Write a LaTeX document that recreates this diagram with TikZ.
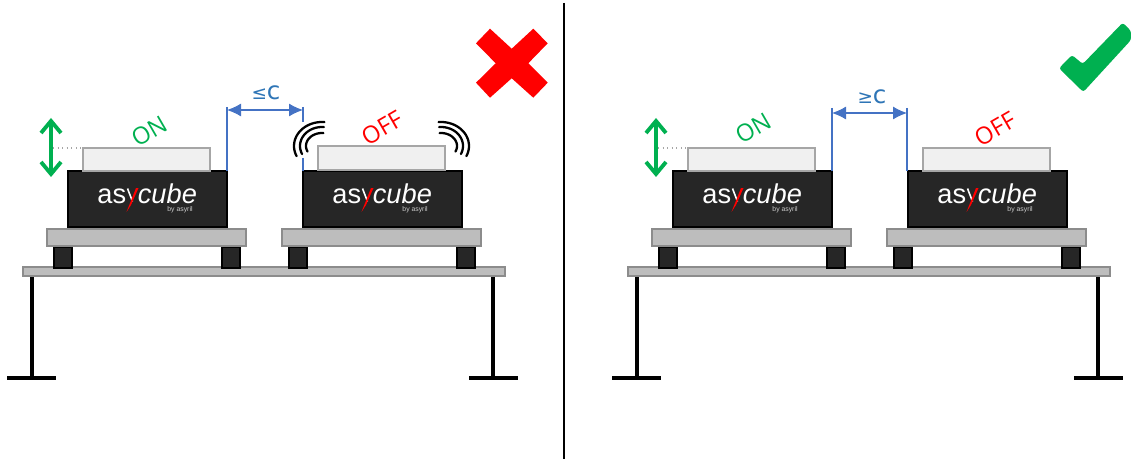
\documentclass[tikz,border=0pt]{standalone}
\usepackage{fontspec}
\setmainfont{Open Sans}
\newfontfamily\logofont{Liberation Sans}
\newfontfamily\gapfont{DejaVu Sans}
\usetikzlibrary{arrows.meta,positioning}
\definecolor{okcol}{RGB}{0,176,80}
\definecolor{badcol}{RGB}{255,0,0}
\definecolor{dimcol}{RGB}{68,114,196}
\definecolor{gapcol}{RGB}{46,117,182}
\definecolor{steel}{RGB}{189,189,189}
\definecolor{steeledge}{RGB}{140,140,140}
\definecolor{cube}{RGB}{38,38,38}
\tikzset{
  steelbar/.style={draw=steeledge, fill=steel, line width=0.9pt},
  foot/.style={draw=black, fill=cube, line width=0.6pt},
  cubebox/.style={draw=black, fill=cube, line width=0.9pt},
  tray/.style={draw=black!35, fill=black!6, line width=1pt},
  leg/.style={draw=black, line width=2.2pt},
  state/.style={font=\fontsize{13.5}{13.5}\selectfont, rotate=30, inner sep=0pt},
  logo/.style={font=\logofont\fontsize{15.5}{15.5}\selectfont, text=white, inner sep=0pt},
  bylab/.style={font=\logofont\fontsize{3.9}{4}\selectfont, text=white!80!black, inner sep=0pt},
  gaplab/.style={text=gapcol, inner sep=0pt},
  dimline/.style={draw=dimcol, line width=0.6pt},
  dimarrow/.style={draw=dimcol, line width=0.6pt, {Latex[length=2.8mm,width=2.6mm]}-{Latex[length=2.8mm,width=2.6mm]}},
  lift/.style={draw=okcol, line width=2.2pt, {Straight Barb[length=2.4mm,width=4mm]}-{Straight Barb[length=2.4mm,width=4mm]}},
  wave/.style={draw=black, line width=1.3pt, line cap=round},
}
\begin{document}
\begin{tikzpicture}[x=0.02cm,y=-0.02cm]
  \useasboundingbox (0,0) rectangle (1131,459);
  \draw[black, line width=1.4pt] (564,3) -- (564,459);
  \foreach \p/\dx in {L/0,R/605} {
    \begin{scope}[xshift=\dx*0.02cm]
      % table
      \draw[leg] (32,277) -- (32,378);
      \draw[leg] (493,277) -- (493,378);
      \draw[leg] (7,378) -- (56,378);
      \draw[leg] (469,378) -- (518,378);
      \draw[steelbar] (23,267) rectangle (505,276);
      % the two feeders
      \foreach \q/\ex in {a/0,b/235} {
        \begin{scope}[xshift=\ex*0.02cm]
          \draw[foot] (54,247) rectangle (72,268);
          \draw[foot] (222,247) rectangle (240,268);
          \draw[steelbar] (47,229) rectangle (246,246);
          \draw[cubebox] (68,171) rectangle (227,227);
          \node[logo, anchor=base east] (\p\q-as) at (126.5,203) {as};
          \node[logo, anchor=base west] (\p\q-cube) at (137.5,203) {\itshape cube};
          \draw[white, line width=0.9pt] (127.5,188.5) -- (132.5,201.5);
          \fill[badcol] (136,188) -- (138.5,188) -- (131,205) -- (126.5,212) -- cycle;
          \node[bylab] (\p\q-by) at (180,210) {by asyril};
        \end{scope}
      }
      \draw[tray] (83,148) rectangle (210,171);
      \draw[black!35, dotted, line width=0.6pt] (53,148) -- (82,148);
      \coordinate (\p-up) at (51,118);
      \coordinate (\p-down) at (51,177);
      \draw[lift] (\p-up) -- (\p-down);
    \end{scope}
  }
  % trays of the second feeder
  \draw[tray] (318,146) rectangle (445,170);
  \draw[tray] (923,148) rectangle (1050,171);
  % state labels
  \node[state, text=okcol] (L-on) at (149,131) {ON};
  \node[state, text=badcol] (L-off) at (382,128) {OFF};
  \node[state, text=okcol] (R-on) at (753,128) {ON};
  \node[state, text=badcol] (R-off) at (995,129) {OFF};
  % gap between the feeders
  \coordinate (L-gap-a) at (227,107);
  \coordinate (L-gap-a0) at (227,171);
  \coordinate (L-gap-b) at (303,107);
  \coordinate (L-gap-b0) at (303,122);
  \coordinate (L-gap-b1) at (303,158);
  \coordinate (L-gap-b2) at (303,171);
  \draw[dimline] (L-gap-a) -- (L-gap-a0);
  \draw[dimline] (L-gap-b) -- (L-gap-b0);
  \draw[dimline] (L-gap-b1) -- (L-gap-b2);
  \coordinate (L-arr-a) at (227,110);
  \coordinate (L-arr-b) at (303,110);
  \draw[dimarrow] (L-arr-a) -- (L-arr-b);
  \node[gaplab] (L-gap) at (266,93) {\gapfont\fontsize{10.5}{10}\selectfont ≤\fontsize{14}{14}\selectfont c};
  \coordinate (R-gap-a) at (832,108);
  \coordinate (R-gap-a0) at (832,171);
  \coordinate (R-gap-b) at (907,108);
  \coordinate (R-gap-b0) at (907,171);
  \draw[dimline] (R-gap-a) -- (R-gap-a0);
  \draw[dimline] (R-gap-b) -- (R-gap-b0);
  \coordinate (R-arr-a) at (832,113);
  \coordinate (R-arr-b) at (907,113);
  \draw[dimarrow] (R-arr-a) -- (R-arr-b);
  \node[gaplab] (R-gap) at (872,97) {\gapfont\fontsize{10.5}{10}\selectfont ≥\fontsize{14}{14}\selectfont c};
  % vibration
  \foreach \xr/\yr in {28/24,22/19,16/13} {
    \draw[wave] plot[domain=85:205, samples=24] ({322+\xr*cos(\x)},{146-\yr*sin(\x)});
    \draw[wave] plot[domain=-25:95, samples=24] ({441+\xr*cos(\x)},{146-\yr*sin(\x)});
  }
  % verdict marks
  \fill[badcol] (490,28.7) -- (511.7,48.7) -- (533.3,28.7) -- (547.7,43.3) -- (528.3,63.3) -- (547.7,82.7) -- (533.3,97.7) -- (511.7,78.3) -- (490,97.7) -- (476,82.7) -- (495.7,63.3) -- (476,43.3) -- cycle;
  \fill[okcol, rounded corners=1.5pt] (1072,55) -- (1082.7,64) -- (1122.7,22.7) -- (1131,31) -- (1131,40) -- (1083.3,92) -- (1059,68.3) -- cycle;
\end{tikzpicture}
\end{document}
